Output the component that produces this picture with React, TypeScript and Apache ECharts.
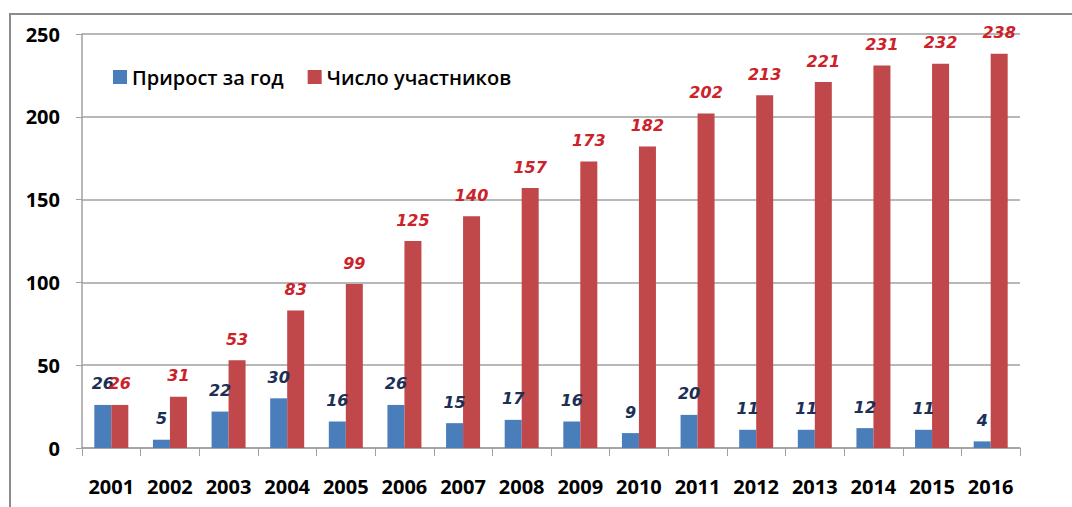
import React, { useEffect, useRef } from "react";
import * as echarts from "echarts";

const years = ["2001","2002","2003","2004","2005","2006","2007","2008","2009","2010","2011","2012","2013","2014","2015","2016"];
const growth = [26,5,22,30,16,26,15,17,16,9,20,11,11,12,11,4];
const members = [26,31,53,83,99,125,140,157,173,182,202,213,221,231,232,238];
const seriesNames = ["Прирост за год", "Число участников"];

export default function App() {
  const ref = useRef<HTMLDivElement>(null);
  useEffect(() => {
    if (!ref.current) return;
    const chart = echarts.init(ref.current, null, { renderer: "svg" });
    const labelFont = {
      fontFamily: "DejaVu Sans",
      fontWeight: "bold" as const,
      fontStyle: "italic" as const,
      fontSize: 16,
    };
    chart.setOption({
      animation: false,
      backgroundColor: "#ffffff",
      graphic: [
        {
          type: "rect",
          shape: { x: 10, y: 14, width: 1100, height: 600 },
          style: { fill: "none", stroke: "#8c8c8c", lineWidth: 2 },
          silent: true,
        },
      ],
      grid: { left: 82, right: 52, top: 34, bottom: 59 },
      legend: {
        left: 108,
        top: 62,
        itemWidth: 14,
        itemHeight: 14,
        itemGap: 24,
        icon: "rect",
        textStyle: { fontFamily: "Open Sans", fontSize: 20, fontWeight: 600, color: "#000" },
        data: seriesNames,
      },
      xAxis: {
        type: "category",
        data: years,
        axisLine: { lineStyle: { color: "#a0a0a0", width: 1.5 } },
        axisTick: { show: true, length: 8, lineStyle: { color: "#a0a0a0" } },
        axisLabel: { interval: 0, margin: 28, fontFamily: "Open Sans", fontWeight: "bold", fontSize: 20, color: "#000" },
      },
      yAxis: {
        type: "value",
        min: 0,
        max: 250,
        interval: 50,
        axisLine: { show: true, lineStyle: { color: "#a0a0a0", width: 1.5 } },
        axisTick: { show: true, length: 6, lineStyle: { color: "#a0a0a0" } },
        splitLine: { lineStyle: { color: "#a0a0a0", width: 1.5 } },
        axisLabel: { margin: 22, fontFamily: "Open Sans", fontWeight: "bold", fontSize: 20, color: "#000" },
      },
      series: [
        {
          name: seriesNames[0],
          type: "bar",
          data: growth,
          barWidth: 17,
          barGap: "0%",
          itemStyle: { color: "#4a7ebb" },
          label: { show: true, position: "top", distance: 13, color: "#1b2f57", ...labelFont },
        },
        {
          name: seriesNames[1],
          type: "bar",
          data: members,
          barWidth: 17,
          barGap: "0%",
          itemStyle: { color: "#c0474a" },
          label: { show: true, position: "top", distance: 13, color: "#cc2229", ...labelFont },
        },
      ],
    });
    return () => chart.dispose();
  }, []);
  return <div ref={ref} style={{ position: "absolute", left: 0, top: 0, width: 1072, height: 507 }} />;
}
